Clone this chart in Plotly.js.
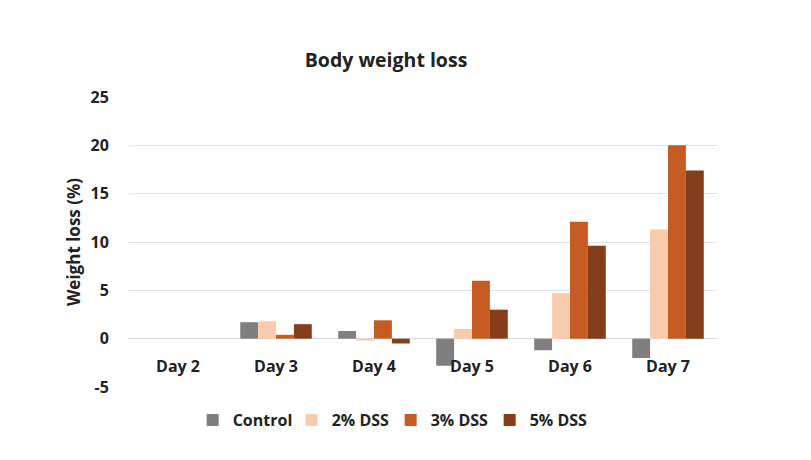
<!DOCTYPE html>
<html>
<head>
<meta charset="utf-8">
<script src="https://cdn.plot.ly/plotly-3.0.1.min.js"></script>
<style>html,body{margin:0;padding:0;background:#fff;}#chart{width:811px;height:460px;}</style>
</head>
<body>
<div id="chart"></div>
<script>
const days = ["Day 2", "Day 3", "Day 4", "Day 5", "Day 6", "Day 7"];
const control = [0, 1.7, 0.8, -2.8, -1.2, -2.0];
const dss2 = [0, 1.8, -0.2, 1.0, 4.7, 11.3];
const dss3 = [0, 0.4, 1.9, 6.0, 12.1, 20.0];
const dss5 = [0, 1.5, -0.5, 3.0, 9.6, 17.4];
const seriesNames = ["Control", "2% DSS", "3% DSS", "5% DSS"];
const colors = ["#7f7f7f", "#f9cbad", "#c65b24", "#843e1c"];
const yTickVals = [-5, 0, 5, 10, 15, 20, 25];
const yTickText = ["-5", "0", "5", "10", "15", "20", "25"];

const FONT = "'Open Sans', 'Noto Sans', sans-serif";
const vals = [control, dss2, dss3, dss5];
const traces = vals.map((v, i) => ({
  type: "bar",
  name: seriesNames[i],
  x: days,
  y: v,
  marker: {color: colors[i], line: {width: 0}},
  hoverinfo: "x+y+name"
}));

const layout = {
  width: 811, height: 460,
  paper_bgcolor: "#fff", plot_bgcolor: "#fff",
  margin: {l: 129, r: 94, t: 97, b: 73},
  font: {family: FONT, color: "#222", size: 16},
  title: {text: "<b>Body weight loss</b>", x: 0.476, xanchor: "center", y: 0.87, yanchor: "middle",
          font: {family: FONT, size: 19.5, color: "#222"}},
  barmode: "group",
  bargap: 0.27,
  bargroupgap: 0,
  xaxis: {
    anchor: "free", position: 1/6,
    showgrid: false, showline: false, zeroline: false,
    ticks: "outside", ticklen: 13, tickcolor: "rgba(0,0,0,0)",
    tickfont: {family: FONT, size: 16, color: "#222", weight: "bold"},
    fixedrange: true
  },
  yaxis: {
    range: [-5, 25], tickvals: yTickVals, ticktext: yTickText,
    showgrid: true, gridcolor: "#e3e3e3", gridwidth: 1,
    zeroline: true, zerolinecolor: "#d9d9d9", zerolinewidth: 1,
    showline: false,
    ticks: "outside", ticklen: 16, tickcolor: "rgba(0,0,0,0)",
    tickfont: {family: FONT, size: 16, color: "#222", weight: "bold"},
    title: {text: "<b>Weight loss (%)</b>", standoff: 5, font: {family: FONT, size: 17, color: "#222"}},
    fixedrange: true
  },
  showlegend: true,
  legend: {
    orientation: "h", x: 0.445, xanchor: "center", y: -0.114, yanchor: "middle",
    font: {family: FONT, size: 16, color: "#222", weight: "bold"},
    itemwidth: 30, entrywidth: 54, entrywidthmode: "pixels", traceorder: "normal"
  }
};

Plotly.newPlot("chart", traces, layout, {displayModeBar: false, staticPlot: true});
</script>
</body>
</html>
